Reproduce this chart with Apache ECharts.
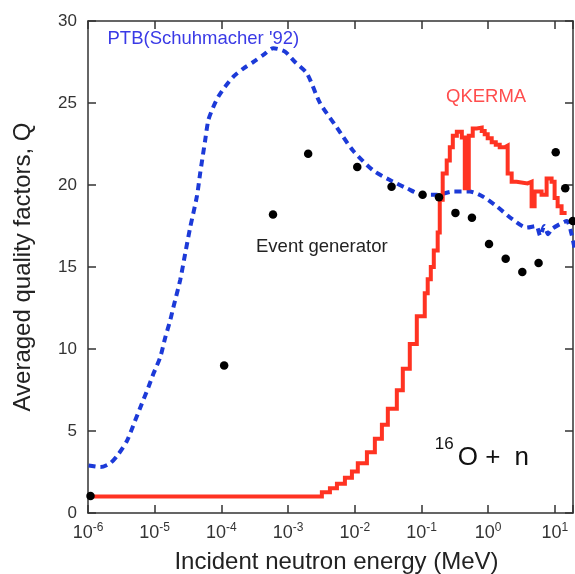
<!DOCTYPE html>
<html>
<head>
<meta charset="utf-8">
<script src="https://cdn.jsdelivr.net/npm/echarts@6/dist/echarts.min.js"></script>
<style>
html,body{margin:0;padding:0;background:#fff;}
#c{width:575px;height:574px;}
</style>
</head>
<body>
<div id="c"></div>
<script>
// ---- data (energies in MeV, Q dimensionless) ----
const yTicks = [0, 5, 10, 15, 20, 25, 30];
const xDecades = [1e-6, 1e-5, 1e-4, 1e-3, 1e-2, 1e-1, 1, 10];

// PTB (Schuhmacher '92) curve
const ptbE = [1.02e-6, 1.53e-6, 2.16e-6, 2.87e-6, 3.84e-6, 5.11e-6, 6.43e-6, 8.07e-6, 9.59e-6,
  1.21e-5, 1.44e-5, 1.71e-5, 1.91e-5, 2.41e-5, 2.86e-5, 3.40e-5, 4.29e-5, 4.80e-5, 5.70e-5,
  6.38e-5, 7.59e-5, 9.02e-5, 1.14e-4, 1.51e-4, 2.13e-4, 3.01e-4, 4.26e-4, 6.00e-4, 8.99e-4,
  1.27e-3, 1.92e-3, 3.01e-3, 5.40e-3, 9.38e-3, 1.87e-2, 3.36e-2, 6.03e-2, 0.105, 0.169,
  0.294, 0.528, 0.828, 1.34, 2.33, 3.77, 5.25, 6.03, 6.92, 7.94, 8.91, 11.7, 15.1, 17.8, 20.0];
const ptbQ = [2.9, 2.8, 3.04, 3.6, 4.4, 5.65, 6.67, 7.68, 8.5,
  9.5, 10.7, 11.75, 12.56, 14.2, 15.8, 17.4, 19.3, 20.7, 22.7,
  23.96, 24.77, 25.4, 26.0, 26.6, 27.1, 27.5, 27.93, 28.34, 28.13,
  27.5, 26.8, 25.0, 23.5, 22.1, 20.9, 20.3, 19.8, 19.4, 19.4,
  19.6, 19.6, 19.3, 18.7, 17.9, 17.4, 17.5, 16.9, 17.5, 17.0, 17.3, 17.6, 17.8, 17.0, 16.0];

// QKERMA histogram: bin edges and bin values
const kermaEdges = [1e-6, 3.21e-3, 4.24e-3, 5.40e-3, 7.11e-3, 9.06e-3, 1.11e-2, 1.52e-2, 2.00e-2,
  2.55e-2, 3.13e-2, 4.27e-2, 5.25e-2, 6.68e-2, 8.51e-2, 0.112, 0.124, 0.138, 0.153, 0.175,
  0.188, 0.208, 0.239, 0.266, 0.295, 0.339, 0.403, 0.446, 0.512, 0.587, 0.675, 0.800, 0.887,
  0.984, 1.13, 1.30, 1.49, 1.77, 1.96, 2.25, 2.67, 3.90, 4.48, 4.97, 6.32, 7.52, 8.93, 9.91,
  11.0, 12.6, 15.0];
const kermaQ = [1.0, 1.27, 1.51, 1.78, 2.15, 2.53, 3.04, 3.71, 4.53, 5.38, 6.36, 7.48, 8.8,
  10.3, 12.0, 13.4, 14.25, 15.0, 16.0, 17.1, 19.1, 20.7, 21.5, 22.3, 23.0, 23.25, 22.9, 19.8,
  23.0, 23.45, 23.5, 23.3, 23.1, 22.85, 22.6, 22.45, 22.3, 22.4, 20.7, 20.2, 20.1, 20.2, 18.7,
  19.6, 19.4, 20.4, 20.2, 19.2, 18.7, 18.3];

// Event generator points
const eventE = [1.09e-6, 1.10e-4, 5.94e-4, 2.0e-3, 1.09e-2, 3.56e-2, 0.104, 0.183, 0.323,
  0.571, 1.03, 1.83, 3.25, 5.70, 10.3, 14.3, 18.6];
const eventQ = [1.03, 9.0, 18.2, 21.9, 21.1, 19.9, 19.4, 19.25, 18.3,
  18.0, 16.4, 15.5, 14.7, 15.25, 22.0, 19.8, 17.8];

// ---- build ----
const FONT = '"Liberation Sans", Arial, Helvetica, sans-serif';
const ptbData = ptbE.map((e, i) => [e, ptbQ[i]]);
const kermaData = kermaQ.map((q, i) => [kermaEdges[i], q]);
kermaData.push([kermaEdges[kermaEdges.length - 1], kermaQ[kermaQ.length - 1]]);
const eventData = eventE.map((e, i) => [e, eventQ[i]]);

const frameColor = '#333';
function xLabel(v) {
  const l = Math.log10(v);
  const p = Math.round(l);
  if (Math.abs(l - p) > 1e-6) return '';
  if (!xDecades.some(d => Math.abs(Math.log10(d) - p) < 1e-9)) return '';
  return '{b|10}{s|' + p + '}';
}
const common = {
  axisLine: { show: true, onZero: false, lineStyle: { color: frameColor, width: 1.5 } },
  axisTick: { show: true, inside: true, length: 8, lineStyle: { color: frameColor, width: 1.5 } },
  splitLine: { show: false },
  minorTick: { show: false },
  minorSplitLine: { show: false }
};
const xBase = { type: 'log', logBase: 10, min: 1e-6, max: 18.7 };
const yBase = { type: 'value', min: yTicks[0], max: yTicks[yTicks.length - 1], interval: yTicks[1] - yTicks[0] };

const chart = echarts.init(document.getElementById('c'), null, { renderer: 'canvas' });
chart.setOption({
  animation: false,
  backgroundColor: '#fff',
  grid: { left: 88, top: 21, right: 2, bottom: 61, containLabel: false, outerBoundsMode: 'none' },
  xAxis: [
    Object.assign({}, xBase, common, {
      position: 'bottom',
      axisLabel: {
        margin: 9, formatter: xLabel,
        rich: {
          b: { fontSize: 18, lineHeight: 22, fontFamily: FONT, color: '#333' },
          s: { fontSize: 12, lineHeight: 12, verticalAlign: 'top', fontFamily: FONT, color: '#333' }
        }
      },
      name: 'Incident neutron energy (MeV)', nameLocation: 'middle', nameGap: 37,
      nameMoveOverlap: false,
      nameTextStyle: { fontSize: 24, fontFamily: FONT, color: '#222', padding: [0, 0, 0, 12] }
    }),
    Object.assign({}, xBase, common, { position: 'top', axisLabel: { show: false } })
  ],
  yAxis: [
    Object.assign({}, yBase, common, {
      position: 'left',
      axisLabel: { margin: 11, fontSize: 17, fontFamily: FONT, color: '#333' },
      name: 'Averaged quality factors, Q', nameLocation: 'middle', nameGap: 53,
      nameMoveOverlap: false,
      nameTextStyle: { fontSize: 24, fontFamily: FONT, color: '#222' }
    }),
    Object.assign({}, yBase, common, { position: 'right', axisLabel: { show: false } })
  ],
  series: [
    {
      name: "PTB(Schuhmacher '92)", type: 'line', data: ptbData, showSymbol: false, smooth: 0.25,
      lineStyle: { color: '#1c3ad8', width: 4, type: [7, 5] }, z: 2, silent: true
    },
    {
      name: 'QKERMA', type: 'line', data: kermaData, step: 'end', showSymbol: false,
      lineStyle: { color: '#ff3322', width: 4, join: 'miter' }, z: 3, silent: true
    },
    {
      name: 'Event generator', type: 'scatter', data: eventData, symbol: 'circle', symbolSize: 8.5,
      itemStyle: { color: '#000', opacity: 1 }, z: 4, silent: true
    }
  ],
  graphic: [
    { type: 'text', x: 107.5, y: 38.5, z: 10,
      style: { text: "PTB(Schuhmacher '92)", fill: '#3a3ae6', fontSize: 18.5, fontFamily: FONT, align: 'left', verticalAlign: 'middle' } },
    { type: 'text', x: 446, y: 97, z: 10,
      style: { text: 'QKERMA', fill: '#ff4d4d', fontSize: 18.5, fontFamily: FONT, align: 'left', verticalAlign: 'middle' } },
    { type: 'text', x: 256, y: 246.7, z: 10,
      style: { text: 'Event generator', fill: '#222', fontSize: 18.5, fontFamily: FONT, align: 'left', verticalAlign: 'middle' } },
    { type: 'text', x: 434.8, y: 436, z: 10,
      style: {
        text: '{s|16}{o|O + }{n|n}', fill: '#111', fontFamily: FONT, fontSize: 26, align: 'left', verticalAlign: 'top',
        rich: {
          s: { fontSize: 17, lineHeight: 17, verticalAlign: 'top', padding: [0, 4, 0, 0], fontFamily: FONT, fill: '#111' },
          o: { fontSize: 26, lineHeight: 44, fontFamily: FONT, fill: '#111' },
          n: { fontSize: 26, lineHeight: 44, padding: [0, 0, 0, 7], fontFamily: FONT, fill: '#111' }
        }
      } }
  ]
});
</script>
</body>
</html>
